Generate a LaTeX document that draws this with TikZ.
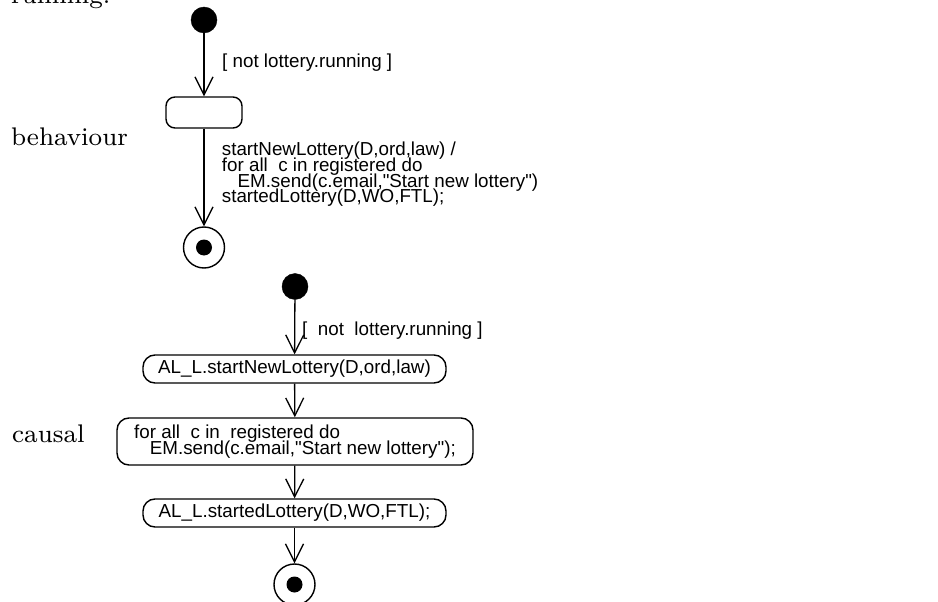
\documentclass[tikz,border=0pt]{standalone}
\usepackage{fontspec}
\newfontfamily\umlfont{Liberation Sans}
\newfontfamily\titlefont{lmroman8-regular.otf}
\usetikzlibrary{arrows.meta}

% let baselines sit closer than the glyph boxes would allow
\newcommand\tightlines{\lineskiplimit=-50pt\relax\lineskip=0pt\relax}

\tikzset{
  umltext/.style={font=\umlfont\fontsize{18.8}{15.6}\selectfont\tightlines, inner sep=0pt},
  sectiontitle/.style={font=\titlefont\fontsize{25.5}{30}\selectfont, inner sep=0pt, anchor=base west},
  initstate/.style={circle, fill=black, draw=black, minimum size=26pt, inner sep=0pt},
  finalstate/.style={circle, draw=black, line width=1.4pt, minimum size=41pt, inner sep=0pt,
    path picture={\fill[black] (path picture bounding box.center) circle (8pt);}},
  activity/.style={draw=black, line width=1.4pt, rounded corners=12pt, inner sep=0pt,
    font=\umlfont\fontsize{18.8}{16.7}\selectfont\tightlines, align=left},
  flow/.style={line width=1.3pt, -{Straight Barb[length=18pt,width=18pt,line width=1.3pt]}},
}

\begin{document}
\begin{tikzpicture}[x=1pt, y=-1pt]
  \useasboundingbox (0,0) rectangle (938,602);
  \fill[white] (0,0) rectangle (938,602);
  \clip (0,0) rectangle (938,602);

  % tail of the preceding sentence
  \node[sectiontitle] (prevline) at (11,4) {running.};

  % ---- behaviour variant ----
  \node[sectiontitle] (behaviourtitle) at (11,146) {behaviour};

  \node[initstate] (binit) at (204,20) {};
  \node[draw=black, line width=1.4pt, rounded corners=9pt, minimum width=76pt,
        minimum height=31pt, inner sep=0pt] (bstate) at (204,112.5) {};
  \node[finalstate] (bfinal) at (204,247.5) {};

  \draw[flow] (binit) -- (bstate);
  \draw[flow] (bstate) -- (bfinal);

  \node[umltext, anchor=base west] (bguard) at (222,67) {[ not lottery.running ]};
  % the base anchor of a multi-line node sits on its last line
  \node[umltext, anchor=base west, align=left] (beffect) at (221.7,202.7)
    {startNewLottery(D,ord,law) /\\
     for all\ \ c in registered do\\
     \ \ \ EM.send(c.email,"Start new lottery")\\
     startedLottery(D,WO,FTL);};

  % ---- causal variant ----
  \node[sectiontitle] (causaltitle) at (12,442) {causal};

  \node[initstate] (cinit) at (295,286.5) {};
  \node[activity, minimum width=303pt, minimum height=28pt] (cstart) at (294.5,369)
    {AL\_L.startNewLottery(D,ord,law)};
  \node[activity, minimum width=356pt, minimum height=47pt] (csend) at (295,441.5)
    {for all\ \ c in\ \ registered do\\
     \ \ \ EM.send(c.email,"Start new lottery");};
  \node[activity, minimum width=303pt, minimum height=28pt] (cstarted) at (294.5,513)
    {AL\_L.startedLottery(D,WO,FTL);};
  \node[finalstate] (cfinal) at (294.5,584.5) {};

  \draw[flow] (cinit) -- (cstart);
  \draw[flow] (cstart) -- (csend);
  \draw[flow] (csend) -- (cstarted);
  \draw[flow] (cstarted) -- (cfinal);

  \node[umltext, anchor=base west] (cguard) at (302,335) {[\ \ not\ \ lottery.running ]};
\end{tikzpicture}
\end{document}
